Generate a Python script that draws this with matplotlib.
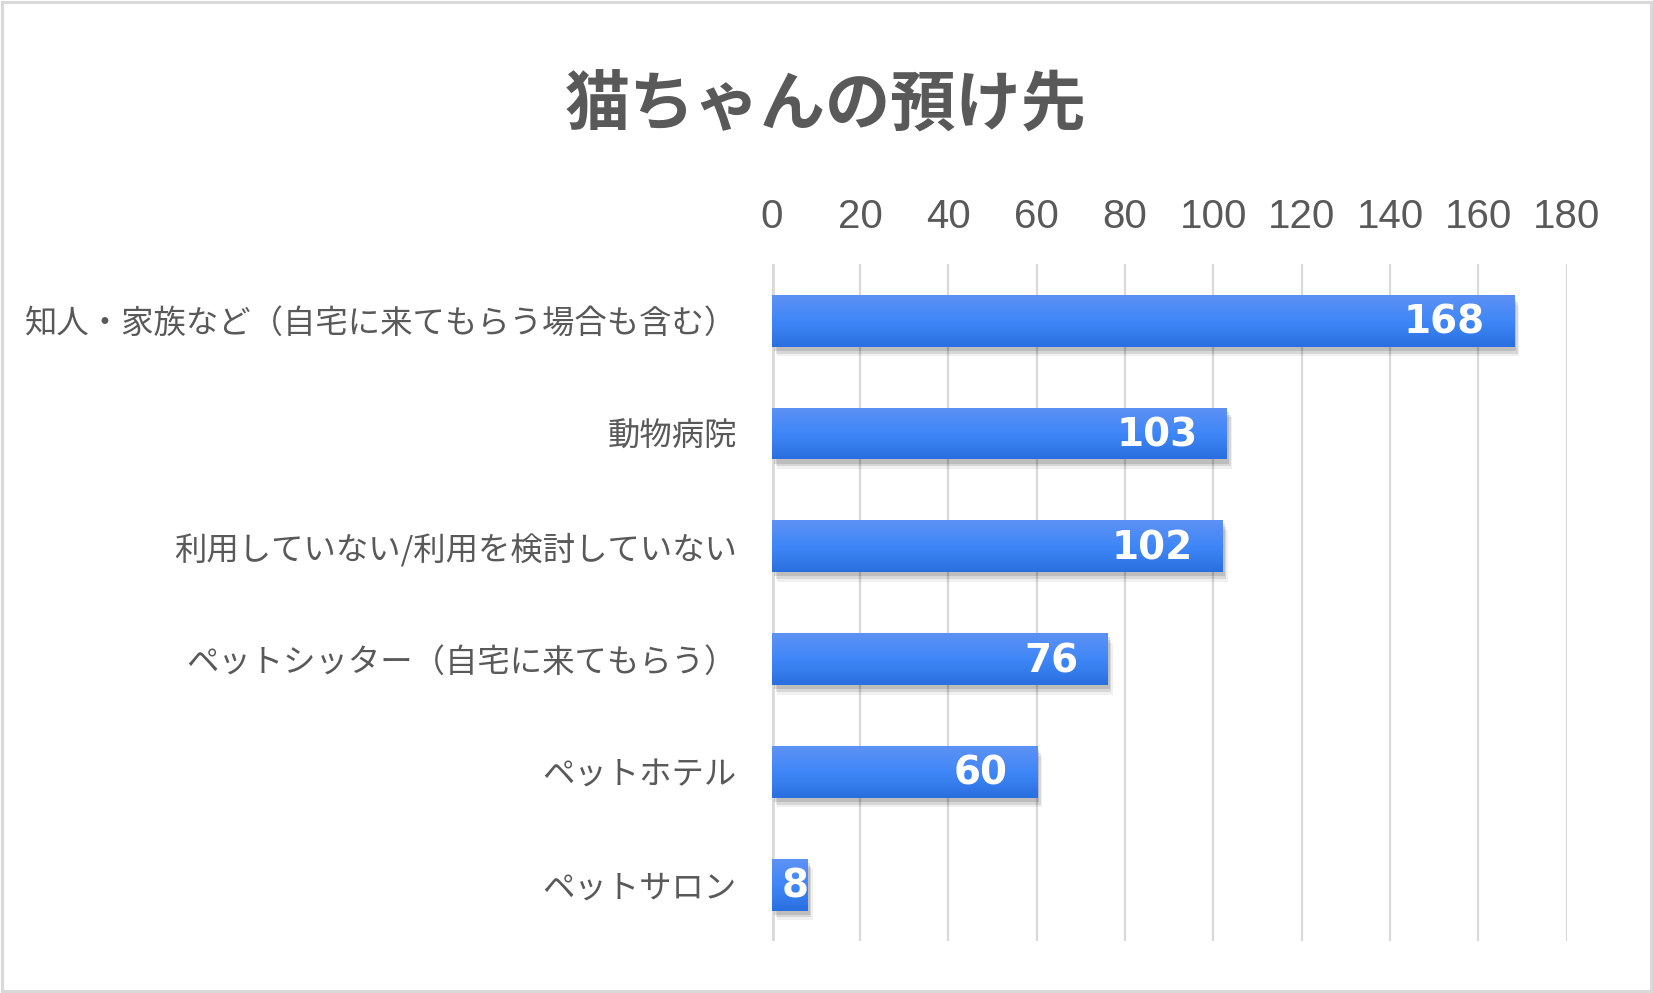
import numpy as np
import matplotlib
matplotlib.use("Agg")
import matplotlib.pyplot as plt
import matplotlib.patheffects as pe
from matplotlib.colors import LinearSegmentedColormap
from matplotlib.patches import Rectangle

plt.rcParams['font.family'] = ['Noto Sans CJK JP', 'DejaVu Sans']

# ---- data ----
title = "猫ちゃんの預け先"
categories = [
    "知人・家族など（自宅に来てもらう場合も含む）",
    "動物病院",
    "利用していない/利用を検討していない",
    "ペットシッター（自宅に来てもらう）",
    "ペットホテル",
    "ペットサロン",
]
values = [168, 103, 102, 76, 60, 8]
xticks = [0, 20, 40, 60, 80, 100, 120, 140, 160, 180]

# ---- style ----
TEXT = "#595959"
GRID = "#d9d9d9"
BAR = "#3f87f8"
cmap = LinearSegmentedColormap.from_list("bar", ["#5e91f4", "#3f87f8", "#2a6fe0"])

fig = plt.figure(figsize=(16.53, 9.93), dpi=100)
fig.patch.set_facecolor("white")
fig.patches.append(Rectangle((0.001, 0.002), 0.998, 0.996, transform=fig.transFigure,
                             fill=False, edgecolor=GRID, linewidth=2.2))

ax = fig.add_axes([0.4668, 0.0524, 0.9478 - 0.4668, 0.7338 - 0.0524])
ypos = np.arange(len(categories))
bar_h = 0.46

shadow = [pe.SimplePatchShadow(offset=(2, -3), shadow_rgbFace="black", alpha=0.12),
          pe.SimplePatchShadow(offset=(3, -5), shadow_rgbFace="black", alpha=0.10),
          pe.SimplePatchShadow(offset=(4, -7), shadow_rgbFace="black", alpha=0.06),
          pe.Normal()]
bars = ax.barh(ypos, values, height=bar_h, color=BAR, zorder=3)
grad = np.linspace(0, 1, 100).reshape(-1, 1)
for rect in bars:
    rect.set_path_effects(shadow)
    x0, y0 = rect.get_x(), rect.get_y()
    w, h = rect.get_width(), rect.get_height()
    im = ax.imshow(grad, cmap=cmap, aspect="auto", origin="upper",
                   extent=(x0, x0 + w, y0 + h, y0), zorder=4, interpolation="bilinear")
    im.set_clip_path(rect)

lab_font = ["DejaVu Sans"]
for yv, v in zip(ypos, values):
    if v >= 20:
        ax.annotate(str(v), (v, yv), xytext=(-29, -2), textcoords="offset pixels",
                    ha="right", va="center", color="white", fontsize=28,
                    fontweight="bold", family=lab_font, zorder=5)
    else:
        ax.annotate(str(v), (0, yv), xytext=(10, -2), textcoords="offset pixels",
                    ha="left", va="center", color="white", fontsize=28,
                    fontweight="bold", family=lab_font, zorder=5)

ax.set_xlim(0, 180)
ax.set_ylim(len(categories) - 0.5, -0.5)
ax.set_xticks(xticks)
ax.set_xticklabels([str(t) for t in xticks], family=["Liberation Sans", "DejaVu Sans"])
ax.xaxis.tick_top()
ax.tick_params(axis="x", length=0, pad=20.5, labelsize=29, labelcolor=TEXT)
ax.set_yticks(ypos)
ax.set_yticklabels(categories)
ax.tick_params(axis="y", length=0, pad=25, labelsize=23.3, labelcolor=TEXT)
ax.grid(axis="x", color=GRID, linewidth=1.6, zorder=0)
ax.set_axisbelow(True)
ax.axvline(0, color=GRID, linewidth=3.4, zorder=1)
for s in ax.spines.values():
    s.set_visible(False)
ax.set_facecolor("white")

fig.text(0.4995, 0.893, title, ha="center", va="center", fontsize=47,
         fontweight="bold", color=TEXT)

fig.savefig("out.png", dpi=100)
